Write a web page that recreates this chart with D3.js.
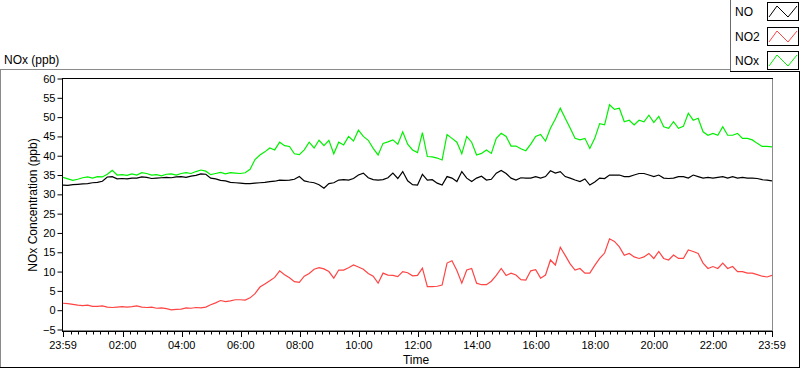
<!DOCTYPE html>
<html>
<head>
<meta charset="utf-8">
<script src="https://cdn.jsdelivr.net/npm/d3@7"></script>
<style>
  body { margin: 0; background: #fff; }
  svg { display: block; font-family: "Liberation Sans", Arial, sans-serif; }
</style>
</head>
<body>
<svg id="chart" width="800" height="369"></svg>
<script>
// Samples every 10 minutes, from 23:59 to 23:59 the next day
const startTime = new Date(2000, 0, 1, 23, 59);
const stepMinutes = 10;

// NO (ppb)
const noValues = [
  32.4, 32.3, 32.5, 32.6, 32.7, 32.8, 33.0, 33.1, 33.4, 34.5, 34.6, 34.0,
  34.1, 34.0, 34.2, 34.2, 34.5, 34.4, 34.1, 34.2, 34.3, 34.4, 34.3, 34.5,
  34.6, 34.4, 34.7, 34.9, 35.3, 35.2, 34.2, 34.0, 33.6, 33.5, 33.1, 33.0,
  32.9, 32.8, 32.8, 32.9, 33.0, 33.1, 33.3, 33.4, 33.7, 33.6, 33.7, 33.9,
  34.6, 33.5, 33.2, 33.0, 32.5, 31.6, 32.8, 33.0, 33.7, 33.8, 33.7, 34.1,
  35.0, 35.5, 34.3, 33.8, 33.7, 33.8, 34.3, 35.5, 34.1, 35.9, 33.5, 32.5,
  32.4, 35.2, 33.7, 33.8, 32.9, 32.4, 34.6, 34.2, 33.3, 35.9, 34.2, 33.3,
  34.2, 34.7, 33.7, 33.9, 35.5, 36.2, 35.4, 34.2, 33.7, 34.3, 34.2, 34.2,
  34.6, 34.2, 34.6, 36.1, 35.5, 35.9, 34.6, 34.2, 33.7, 33.3, 34.0, 32.4,
  33.2, 34.2, 34.1, 35.0, 35.0, 35.0, 34.6, 34.6, 35.0, 35.4, 35.4, 35.0,
  34.6, 35.0, 34.2, 34.1, 34.2, 34.6, 34.6, 34.2, 35.0, 34.6, 34.2, 34.4,
  34.2, 34.4, 34.6, 34.2, 34.6, 34.2, 34.4, 34.2, 34.2, 34.1, 33.8, 33.7,
  33.5
];

// NO2 (ppb)
const no2Values = [
  1.8, 1.7, 1.5, 1.3, 1.2, 1.3, 1.0, 1.0, 1.1, 0.8, 0.7, 0.8,
  0.9, 0.8, 0.9, 1.1, 0.8, 0.7, 0.8, 0.5, 0.6, 0.4, 0.1, 0.2,
  0.3, 0.6, 0.5, 0.7, 0.6, 0.8, 1.4, 1.9, 2.5, 2.2, 2.4, 2.7,
  2.7, 2.6, 3.2, 4.3, 6.0, 6.8, 7.6, 8.5, 10.2, 9.2, 8.4, 7.4,
  7.2, 8.8, 9.5, 10.6, 11.0, 10.7, 10.0, 8.3, 10.4, 10.4, 11.0, 11.7,
  11.2, 10.6, 9.5, 8.8, 7.0, 9.6, 9.1, 9.0, 8.7, 10.0, 9.7, 8.9,
  9.0, 10.9, 6.1, 6.1, 6.2, 6.5, 12.2, 12.8, 10.3, 7.0, 10.4, 10.8,
  7.0, 6.6, 6.6, 7.5, 9.0, 10.8, 9.0, 9.6, 9.1, 7.9, 7.8, 10.2,
  10.5, 8.3, 9.1, 13.0, 11.7, 16.3, 14.2, 12.0, 10.4, 10.8, 9.6, 9.6,
  11.6, 13.4, 14.8, 18.5, 17.8, 16.4, 14.2, 14.7, 13.8, 13.4, 13.8, 14.7,
  13.4, 15.2, 13.4, 13.0, 14.3, 13.4, 13.4, 15.6, 15.2, 14.7, 12.2, 10.8,
  11.3, 10.8, 12.2, 10.8, 11.3, 10.0, 10.0, 9.6, 9.6, 9.2, 8.8, 8.6,
  9.0
];

// NOx (ppb)
const noxValues = [
  34.4, 34.0, 33.6, 33.9, 34.3, 34.5, 34.2, 34.6, 34.5, 35.2, 36.2, 35.0,
  35.1, 34.9, 35.3, 35.0, 35.6, 35.4, 35.0, 35.1, 34.8, 35.2, 35.3, 35.0,
  35.4, 35.6, 35.4, 35.9, 36.3, 36.0, 35.1, 35.4, 35.7, 35.3, 35.6, 35.5,
  35.4, 35.6, 36.5, 39.0, 40.2, 41.0, 42.0, 41.5, 43.5, 42.6, 42.4, 40.5,
  40.3, 41.5, 43.5, 42.0, 44.0, 42.6, 44.0, 40.5, 43.5, 42.8, 45.0, 43.8,
  46.6, 45.0, 44.0, 41.9, 40.2, 43.2, 43.6, 44.1, 43.0, 46.2, 43.0, 41.5,
  40.8, 46.0, 39.8, 39.7, 39.4, 38.9, 45.5, 44.5, 43.5, 40.5, 45.0, 43.5,
  40.2, 40.6, 41.5, 40.6, 44.5, 45.8, 45.0, 42.5, 42.5, 41.8, 41.3, 43.0,
  45.0, 45.5, 43.8, 47.1, 49.5, 52.3, 49.7, 47.2, 44.5, 44.1, 44.5, 41.9,
  44.5, 48.3, 48.0, 53.2, 52.0, 52.3, 48.8, 49.2, 48.0, 49.2, 48.8, 50.5,
  48.6, 50.2, 47.5, 47.1, 48.8, 47.1, 47.6, 51.0, 49.2, 49.7, 46.2, 45.3,
  45.8, 45.3, 47.5, 45.3, 45.3, 45.8, 44.5, 44.5, 44.1, 43.2, 42.4, 42.4,
  42.3
];

const seriesNames = ["NO", "NO2", "NOx"];
const seriesColors = ["#000000", "#ff4444", "#00f000"];
const yTicks = [-5, 0, 5, 10, 15, 20, 25, 30, 35, 40, 45, 50, 55, 60];

// Layout
const PLOT = {left: 63, right: 772, top: 78.5, bottom: 329.5};

const svg = d3.select("#chart");

const endTime = d3.timeDay.offset(startTime, 1);

const x = d3.scaleTime()
  .domain([startTime, endTime])
  .range([PLOT.left, PLOT.right]);

const y = d3.scaleLinear()
  .domain([-5, 60])
  .range([PLOT.bottom, PLOT.top]);

// outer panel frame
svg.append("line").attr("x1", 0).attr("x2", 730).attr("y1", 69.5).attr("y2", 69.5).attr("stroke", "#8a8a8a");
svg.append("line").attr("x1", 0.5).attr("x2", 0.5).attr("y1", 69.5).attr("y2", 368).attr("stroke", "#8a8a8a");
svg.append("line").attr("x1", 0).attr("x2", 800).attr("y1", 367.5).attr("y2", 367.5).attr("stroke", "#000");
svg.append("line").attr("x1", 799.5).attr("x2", 799.5).attr("y1", 72).attr("y2", 368).attr("stroke", "#000");

svg.append("text")
  .attr("x", 4)
  .attr("y", 64)
  .attr("font-size", "12px")
  .text("NOx (ppb)");

// plot frame
svg.append("line").attr("x1", PLOT.right + 0.5).attr("x2", PLOT.right + 0.5)
  .attr("y1", PLOT.top).attr("y2", 331).attr("stroke", "#8a8a8a");
svg.append("line").attr("x1", 62).attr("x2", PLOT.right + 1)
  .attr("y1", 330.5).attr("y2", 330.5).attr("stroke", "#8a8a8a");
svg.append("line").attr("x1", 62).attr("x2", PLOT.right + 1)
  .attr("y1", 78.5).attr("y2", 78.5).attr("stroke", "#000");
svg.append("line").attr("x1", 62.5).attr("x2", 62.5)
  .attr("y1", 78).attr("y2", 331).attr("stroke", "#000");

// y axis
const yAxis = svg.append("g")
  .attr("transform", "translate(62.5,0)")
  .call(d3.axisLeft(y).tickValues(yTicks).tickSize(5).tickPadding(2));
yAxis.select(".domain").remove();
yAxis.selectAll("text").attr("font-size", "11px").attr("fill", "#000")
  .attr("font-family", "Liberation Sans, Arial, sans-serif");

svg.append("text")
  .attr("transform", "rotate(-90)")
  .attr("x", -205)
  .attr("y", 37)
  .attr("text-anchor", "middle")
  .attr("font-size", "12px")
  .text("NOx Concentration (ppb)");

// x axis: major ticks every 2 hours, minor every 15 min
const majorTicks = [startTime]
  .concat(d3.timeHour.every(2).range(d3.timeMinute.offset(startTime, 61), endTime))
  .concat([endTime]);
const minorTicks = d3.timeMinute.every(15).range(d3.timeMinute.offset(startTime, 2), endTime)
  .filter(d => !(d.getMinutes() === 0 && d.getHours() % 2 === 0));

const xg = svg.append("g").attr("transform", "translate(0,331)");
xg.append("line").attr("x1", 62).attr("x2", PLOT.right + 1)
  .attr("y1", 0.5).attr("y2", 0.5).attr("stroke", "#000");
xg.selectAll(".minor")
  .data(minorTicks)
  .join("line")
  .attr("class", "minor")
  .attr("x1", d => Math.round(x(d)) + 0.5)
  .attr("x2", d => Math.round(x(d)) + 0.5)
  .attr("y1", 0).attr("y2", 3.5)
  .attr("stroke", "#000");
xg.selectAll(".major")
  .data(majorTicks)
  .join("line")
  .attr("class", "major")
  .attr("x1", d => Math.round(x(d)) + 0.5)
  .attr("x2", d => Math.round(x(d)) + 0.5)
  .attr("y1", 0).attr("y2", 6)
  .attr("stroke", "#000");
xg.selectAll(".lbl")
  .data(majorTicks)
  .join("text")
  .attr("class", "lbl")
  .attr("x", d => x(d))
  .attr("y", 18)
  .attr("text-anchor", "middle")
  .attr("font-size", "11px")
  .text(d => d3.timeFormat("%H:%M")(d));

svg.append("text")
  .attr("x", 416)
  .attr("y", 364)
  .attr("text-anchor", "middle")
  .attr("font-size", "12px")
  .text("Time");

// lines
svg.append("clipPath").attr("id", "plot-clip")
  .append("rect")
  .attr("x", PLOT.left).attr("y", PLOT.top + 0.5)
  .attr("width", PLOT.right - PLOT.left).attr("height", PLOT.bottom - PLOT.top);

const line = d3.line()
  .x((d, i) => x(d3.timeMinute.offset(startTime, i * stepMinutes)))
  .y(d => y(d));

const allSeries = [noxValues, noValues, no2Values];
const allColors = [seriesColors[2], seriesColors[0], seriesColors[1]];

svg.append("g")
  .attr("clip-path", "url(#plot-clip)")
  .selectAll("path")
  .data(allSeries)
  .join("path")
  .attr("d", line)
  .attr("fill", "none")
  .attr("stroke", (d, i) => allColors[i])
  .attr("stroke-width", 1.2);

// legend
const legend = svg.append("g");
legend.append("line").attr("x1", 730.5).attr("x2", 730.5).attr("y1", 0).attr("y2", 72).attr("stroke", "#6a6a6a");
legend.append("line").attr("x1", 730).attr("x2", 800).attr("y1", 71.5).attr("y2", 71.5).attr("stroke", "#000");

seriesNames.forEach((name, i) => {
  const top = 2 + i * 24.5;
  legend.append("text")
    .attr("x", 735)
    .attr("y", top + 14)
    .attr("font-size", "12px")
    .text(name);
  legend.append("rect")
    .attr("x", 767.5).attr("y", Math.round(top) + 0.5)
    .attr("width", 31).attr("height", 18)
    .attr("fill", "#fff")
    .attr("stroke", "#000");
  const t = Math.round(top);
  legend.append("path")
    .attr("d", `M769,${t + 15}L777,${t + 4}L788,${t + 15}L797,${t + 4}`)
    .attr("fill", "none")
    .attr("stroke", seriesColors[i]);
});
</script>
</body>
</html>
